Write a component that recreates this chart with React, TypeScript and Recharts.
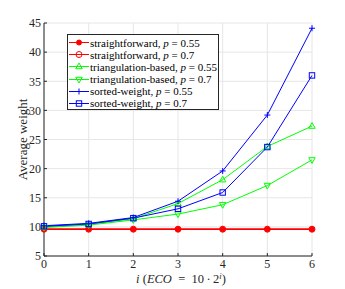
import React from "react";
import { LineChart, Line, XAxis, YAxis, CartesianGrid } from "recharts";

const iValues = [0, 1, 2, 3, 4, 5, 6];
const sfP55 = [9.6, 9.6, 9.6, 9.6, 9.6, 9.6, 9.6];
const sfP70 = [9.6, 9.6, 9.6, 9.6, 9.6, 9.6, 9.6];
const triP55 = [10.0, 10.4, 11.4, 14.0, 18.1, 23.8, 27.3];
const triP70 = [9.9, 10.3, 11.2, 12.2, 13.8, 17.1, 21.5];
const swP55 = [10.2, 10.6, 11.6, 14.4, 19.6, 29.2, 44.1];
const swP70 = [10.1, 10.5, 11.5, 13.1, 15.9, 23.7, 36.0];
const xTicks = [0, 1, 2, 3, 4, 5, 6];
const yTicks = [5, 10, 15, 20, 25, 30, 35, 40, 45];

const data = iValues.map((i, k) => ({
  i,
  sfP55: sfP55[k],
  sfP70: sfP70[k],
  triP55: triP55[k],
  triP70: triP70[k],
  swP55: swP55[k],
  swP70: swP70[k],
}));

const RED = "#ff0000";
const GREEN = "#00ff00";
const BLUE = "#0000ff";
const FONT = "'Liberation Serif', 'DejaVu Serif', serif";

type Shape = "dot" | "circle" | "up" | "down" | "plus" | "square";

const series: { key: string; name: string; p: string; color: string; shape: Shape }[] = [
  { key: "sfP55", name: "straightforward", p: "0.55", color: RED, shape: "dot" },
  { key: "sfP70", name: "straightforward", p: "0.7", color: RED, shape: "circle" },
  { key: "triP55", name: "triangulation-based", p: "0.55", color: GREEN, shape: "up" },
  { key: "triP70", name: "triangulation-based", p: "0.7", color: GREEN, shape: "down" },
  { key: "swP55", name: "sorted-weight", p: "0.55", color: BLUE, shape: "plus" },
  { key: "swP70", name: "sorted-weight", p: "0.7", color: BLUE, shape: "square" },
];

function marker(shape: Shape, cx: number, cy: number, color: string, key?: string) {
  switch (shape) {
    case "dot":
      return <circle key={key} cx={cx} cy={cy} r={2.5} fill={color} stroke={color} />;
    case "circle":
      return <circle key={key} cx={cx} cy={cy} r={3} fill="none" stroke={color} strokeWidth={1} />;
    case "up":
      return (
        <polygon key={key} points={`${cx},${cy - 3.5} ${cx - 3.2},${cy + 2.2} ${cx + 3.2},${cy + 2.2}`}
          fill="none" stroke={color} strokeWidth={1} />
      );
    case "down":
      return (
        <polygon key={key} points={`${cx},${cy + 3.5} ${cx - 3.2},${cy - 2.2} ${cx + 3.2},${cy - 2.2}`}
          fill="none" stroke={color} strokeWidth={1} />
      );
    case "plus":
      return (
        <path key={key} d={`M${cx - 3},${cy}H${cx + 3}M${cx},${cy - 3}V${cy + 3}`} stroke={color} strokeWidth={1} />
      );
    case "square":
      return <rect key={key} x={cx - 2.7} y={cy - 2.7} width={5.4} height={5.4} fill="none" stroke={color} strokeWidth={1} />;
  }
}

const LegendBox = () => (
  <div
    style={{
      position: "absolute",
      left: 67,
      top: 34,
      boxSizing: "border-box",
      border: "1px solid #262626",
      background: "#fff",
      width: 152,
      height: 76,
      paddingTop: 1.5,
      fontFamily: FONT,
      fontSize: 11,
      color: "#000",
      lineHeight: "12.2px",
    }}
  >
    {series.map((s) => (
      <div key={s.key} style={{ display: "flex", alignItems: "center", whiteSpace: "nowrap", height: 12.2 }}>
        <svg width={22} height={11} style={{ flex: "none" }}>
          <line x1={1} y1={5.5} x2={21} y2={5.5} stroke={s.color} strokeWidth={1} />
          {marker(s.shape, 11, 5.5, s.color)}
        </svg>
        <span>
          {s.name}, <i>p</i> = {s.p}
        </span>
      </div>
    ))}
  </div>
);

export default function App() {
  return (
    <div style={{ position: "absolute", left: 0, top: 0, width: 345, height: 289, background: "#fff" }}>
      <LineChart width={345} height={289} data={data} margin={{ top: 23, right: 33, bottom: 0, left: 0 }}>
        <CartesianGrid stroke="#e6e6e6" strokeWidth={1} />
        <XAxis
          dataKey="i"
          type="number"
          domain={[0, 6]}
          ticks={xTicks}
          height={33}
          stroke="#262626"
          tickSize={-3}
          tickMargin={6}
          tick={{ fill: "#262626", fontSize: 12, fontFamily: FONT }}
          label={(props: any) => {
            const vb = props.viewBox || {};
            const cx = (vb.x ?? 44) + (vb.width ?? 267) / 2 + 3;
            return (
              <text x={cx} y={283} textAnchor="middle" fontFamily={FONT} fontSize={12.5} fill="#262626">
                <tspan fontStyle="italic">i</tspan>
                <tspan> (</tspan>
                <tspan fontStyle="italic">ECO</tspan>
                <tspan>{"\u2002=\u200210\u2009·\u20092"}</tspan>
                <tspan fontStyle="italic" fontSize={8.5} dy={-4}>i</tspan>
                <tspan dy={4}>)</tspan>
              </text>
            );
          }}
        />
        <XAxis xAxisId="top" dataKey="i" type="number" domain={[0, 6]} ticks={xTicks} orientation="top"
          height={0} tick={false} stroke="#262626" tickSize={-3} />
        <YAxis
          type="number"
          domain={[5, 45]}
          ticks={yTicks}
          width={44}
          stroke="#262626"
          tickSize={-3}
          tickMargin={6}
          tick={{ fill: "#262626", fontSize: 12, fontFamily: FONT }}
          label={(props: any) => {
            const vb = props.viewBox || {};
            const cy = (vb.y ?? 23) + (vb.height ?? 233) / 2;
            return (
              <text x={22} y={cy} transform={`rotate(-90, 22, ${cy})`} textAnchor="middle"
                dominantBaseline="central" fontFamily={FONT} fontSize={13} fill="#262626">
                Average weight
              </text>
            );
          }}
        />
        <YAxis yAxisId="right" type="number" domain={[5, 45]} ticks={yTicks} orientation="right"
          width={0} tick={false} stroke="#262626" tickSize={-3} />
        {series.map((s) => (
          <Line
            key={s.key}
            dataKey={s.key}
            name={s.name}
            stroke={s.color}
            strokeWidth={s.color === RED ? 1.5 : 1}
            isAnimationActive={false}
            dot={(props: any) => marker(s.shape, props.cx, props.cy, s.color, `${s.key}-${props.index}`)}
            activeDot={false}
          />
        ))}
      </LineChart>
      <LegendBox />
    </div>
  );
}
